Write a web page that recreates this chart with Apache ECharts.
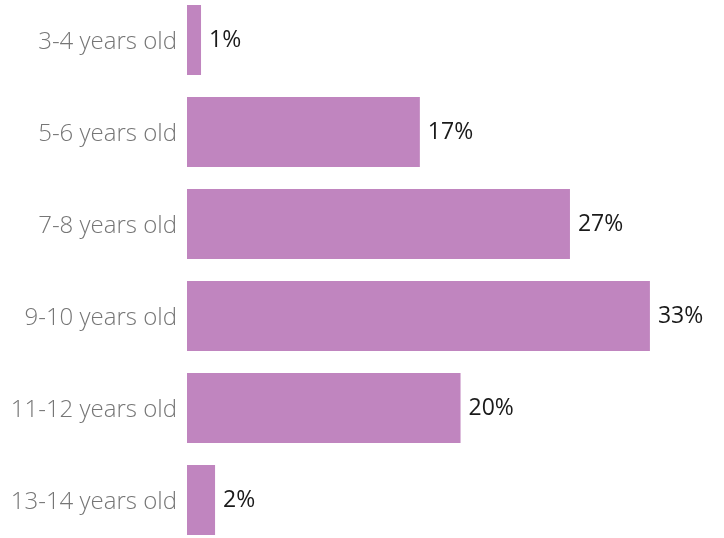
<!DOCTYPE html>
<html><head><meta charset="utf-8">
<script src="https://cdn.jsdelivr.net/npm/echarts@6/dist/echarts.min.js"></script>
<style>html,body{margin:0;padding:0;background:#fff}#c{width:724px;height:538px}</style>
</head><body><div id="c"></div>
<script>
var categories = ["3-4 years old","5-6 years old","7-8 years old","9-10 years old","11-12 years old","13-14 years old"];
var values = [1.0, 16.6, 27.3, 33.0, 19.5, 2.0];
var labels = ["1%","17%","27%","33%","20%","2%"];
var chart = echarts.init(document.getElementById('c'));
chart.setOption({
  animation:false,
  grid:{left:187, top:-6, width:505, height:552, containLabel:false, outerBoundsMode:'none'},
  xAxis:{type:'value', min:0, max:36, show:false},
  yAxis:{type:'category', data:categories, inverse:true,
    axisLine:{show:false}, axisTick:{show:false},
    axisLabel:{margin:10, formatter:function(v){return '{a|' + v + '}';},
      rich:{a:{color:'#767676', fontSize:24, fontWeight:300, fontFamily:'Open Sans', padding:[5,0,0,0]}}}},
  series:[{type:'bar', data:values, barWidth:70, itemStyle:{color:'#c085bf'},
    label:{show:true, position:'right', distance:8, color:'#1a1a1a', fontSize:23, fontWeight:400, fontFamily:'Open Sans',
      formatter:function(p){return labels[p.dataIndex];}}}]
});
</script></body></html>
